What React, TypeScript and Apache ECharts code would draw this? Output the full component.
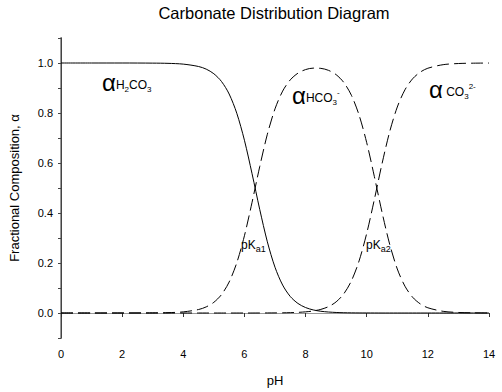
import React, { useEffect, useRef } from "react";
import * as echarts from "echarts";

const pH = [0, 1, 2, 3, 3.5, 4, 4.5, 4.75, 5, 5.25, 5.5, 5.75, 6, 6.25, 6.5, 6.75, 7, 7.25, 7.5, 7.75, 8, 8.25, 8.5, 8.75, 9, 9.25, 9.5, 9.75, 10, 10.25, 10.5, 10.75, 11, 11.25, 11.5, 11.75, 12, 12.5, 13, 13.5, 14];
const alphaH2CO3 = [1, 1, 1, 0.9995, 0.9986, 0.9955, 0.986, 0.9755, 0.957, 0.926, 0.876, 0.799, 0.691, 0.557, 0.4146, 0.2847, 0.183, 0.1117, 0.066, 0.0382, 0.0218, 0.0123, 0.0069, 0.0039, 0.0021, 0.0011, 0.0006, 0.0003, 0.0002, 0.0001, 0, 0, 0, 0, 0, 0, 0, 0, 0, 0, 0];
const alphaHCO3 = [0, 0, 0.0001, 0.0005, 0.0014, 0.0045, 0.0139, 0.0245, 0.0428, 0.0736, 0.124, 0.201, 0.309, 0.443, 0.5853, 0.715, 0.8166, 0.8876, 0.9326, 0.9593, 0.9737, 0.9795, 0.9786, 0.9706, 0.9533, 0.9222, 0.8707, 0.7916, 0.6813, 0.5459, 0.4034, 0.2755, 0.1761, 0.1073, 0.0633, 0.0366, 0.0209, 0.0067, 0.0021, 0.0007, 0.0002];
const alphaCO3 = [0, 0, 0, 0, 0, 0, 0, 0, 0, 0, 0, 0, 0, 0, 0.0001, 0.0003, 0.0004, 0.0007, 0.0014, 0.0025, 0.0046, 0.0081, 0.0145, 0.0255, 0.0446, 0.0767, 0.1288, 0.2082, 0.3186, 0.4541, 0.5966, 0.7245, 0.8239, 0.8927, 0.9367, 0.9634, 0.9791, 0.9933, 0.9979, 0.9993, 0.9998];
const yTicks = ["0.0", "0.2", "0.4", "0.6", "0.8", "1.0"];

const FONT = "Liberation Sans, Arial, sans-serif";

export default function App() {
  const ref = useRef<HTMLDivElement>(null);
  useEffect(() => {
    if (!ref.current) return;
    const chart = echarts.init(ref.current, null, { renderer: "svg" });
    const pair = (ys: number[]) => pH.map((x, i) => [x, ys[i]]);
    const yLabel = (v: number) => {
      const s = v.toFixed(1);
      return yTicks.indexOf(s) >= 0 ? s : "";
    };
    const subRich = {
      a: { fontSize: 24, fontFamily: FONT, color: "#000", verticalAlign: "bottom", lineHeight: 26 },
      s: { fontSize: 12, fontFamily: FONT, color: "#000", verticalAlign: "bottom", padding: [0, 0, 3, 0] },
      sub: { fontSize: 8, fontFamily: FONT, color: "#000", verticalAlign: "bottom", padding: [0, 0, 1, 0] },
      sup: { fontSize: 8, fontFamily: FONT, color: "#000", verticalAlign: "bottom", padding: [0, 0, 11, 0] },
    };
    const pkRich = {
      p: { fontSize: 12, fontFamily: FONT, color: "#000", verticalAlign: "bottom", lineHeight: 14 },
      sub: { fontSize: 9, fontFamily: FONT, color: "#000", verticalAlign: "bottom", padding: [0, 0, -2, 0] },
    };
    chart.setOption({
      animation: false,
      grid: { left: 59, right: 13, top: 38, bottom: 53 },
      xAxis: [
        {
          type: "value", min: 0, max: 14, interval: 2, position: "bottom",
          axisLine: { lineStyle: { color: "#333", width: 1 } },
          axisTick: { show: true, length: 4, lineStyle: { color: "#333" } },
          axisLabel: { fontSize: 11, color: "#000", fontFamily: FONT, margin: 10 },
          splitLine: { show: false },
          name: "pH", nameLocation: "middle", nameGap: 36,
          nameTextStyle: { fontSize: 13, color: "#000", fontFamily: FONT },
        },
        {
          type: "value", min: 0, max: 14, interval: 2, position: "top",
          axisLine: { show: true, lineStyle: { color: "#999", width: 1 } },
          axisTick: { show: false }, axisLabel: { show: false }, splitLine: { show: false },
        },
      ],
      yAxis: [
        {
          type: "value", min: -0.1, max: 1.1, interval: 0.1, position: "left",
          axisLine: { show: true, lineStyle: { color: "#999", width: 2 } },
          axisTick: { show: true, length: 3, lineStyle: { color: "#333" } },
          axisLabel: { fontSize: 11, color: "#000", fontFamily: FONT, formatter: yLabel, margin: 8 },
          splitLine: { show: false },
          name: "Fractional Composition, α", nameLocation: "middle", nameGap: 40,
          nameTextStyle: { fontSize: 13, color: "#000", fontFamily: FONT },
        },
        {
          type: "value", min: -0.1, max: 1.1, interval: 0.1, position: "right",
          axisLine: { show: true, lineStyle: { color: "#444", width: 1 } },
          axisTick: { show: true, inside: true, length: 3, lineStyle: { color: "#444" } },
          axisLabel: { show: false }, splitLine: { show: false },
        },
      ],
      series: [
        {
          type: "line", data: pair(alphaH2CO3), smooth: 0.3, showSymbol: false,
          lineStyle: { color: "#000", width: 1 },
        },
        {
          type: "line", data: pair(alphaHCO3), smooth: 0.3, showSymbol: false,
          lineStyle: { color: "#000", width: 1, type: [12, 5] },
        },
        {
          type: "line", data: pair(alphaCO3), smooth: 0.3, showSymbol: false,
          lineStyle: { color: "#000", width: 1, type: [12, 5] },
        },
      ],
      graphic: [
        {
          type: "text", x: 274, y: 13,
          style: { text: "Carbonate Distribution Diagram", fontSize: 16.5, fontFamily: FONT, fill: "#000", textAlign: "center", textVerticalAlign: "middle" },
        },
        {
          type: "text", x: 102, y: 81,
          style: { text: "{a|α}{s|H}{sub|2}{s|CO}{sub|3}", rich: subRich, textVerticalAlign: "middle" },
        },
        {
          type: "text", x: 292, y: 94,
          style: { text: "{a|α}{s|HCO}{sub|3}{sup|-}", rich: subRich, textVerticalAlign: "middle" },
        },
        {
          type: "text", x: 429, y: 88,
          style: { text: "{a|α} {s|CO}{sub|3}{sup|2-}", rich: subRich, textVerticalAlign: "middle" },
        },
        {
          type: "text", x: 241, y: 244,
          style: { text: "{p|pK}{sub|a1}", rich: pkRich, textVerticalAlign: "middle" },
        },
        {
          type: "text", x: 366, y: 244,
          style: { text: "{p|pK}{sub|a2}", rich: pkRich, textVerticalAlign: "middle" },
        },
      ],
    });
    return () => chart.dispose();
  }, []);
  return <div ref={ref} style={{ width: 502, height: 392, position: "absolute", left: 0, top: 0 }} />;
}
